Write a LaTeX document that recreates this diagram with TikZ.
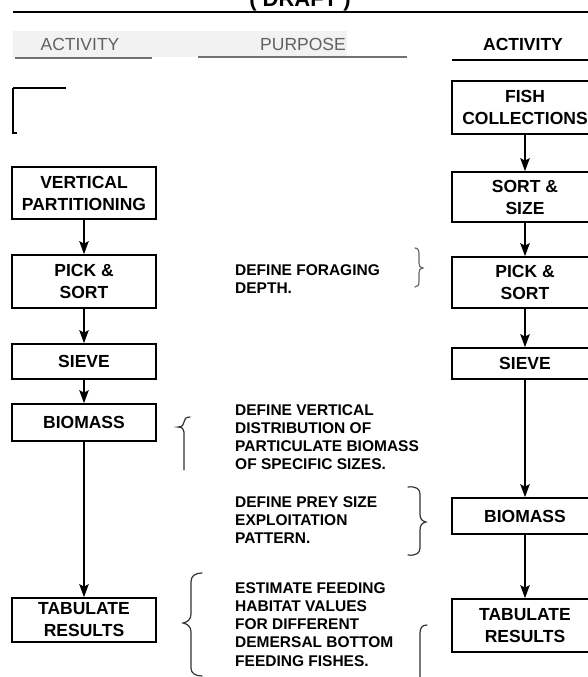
\documentclass[tikz,border=0pt]{standalone}
\usepackage{fontspec}
\setmainfont{Liberation Sans}
\usetikzlibrary{arrows.meta}
\tikzset{
  box/.style={draw, line width=1.7pt, align=center, inner sep=0pt,
    font=\bfseries\fontsize{17.5}{22}\selectfont},
  lbox/.style={box, minimum width=144pt},
  rbox/.style={box, minimum width=146pt},
  flow/.style={line width=1.4pt, -{Stealth[length=13pt,width=9.5pt,inset=2.5pt]}},
  purpose/.style={align=left, inner sep=0pt, anchor=north west,
    font=\bfseries\fontsize{15.5}{18.3}\selectfont},
  hdr/.style={font=\fontsize{17.5}{20}\selectfont, inner sep=0pt},
  brace/.style={line width=1.2pt, black!80, line cap=round},
}
\begin{document}
\begin{tikzpicture}[x=1pt,y=-1pt]
\useasboundingbox (0,0) rectangle (588,677);
% header band
\fill[black!5] (13,31) rectangle (347,57);
% title and top rule
\node[font=\bfseries\fontsize{22}{24}\selectfont, anchor=base, inner sep=0pt] (title) at (300,6.5) {( DRAFT )};
\coordinate (rl) at (13,12);
\coordinate (rr) at (588,12);
\draw[line width=1.5pt] (rl) -- (rr);
% headers
\node[hdr, text=black!62] (h1) at (80,44) {ACTIVITY};
\node[hdr, text=black!62] (h2) at (303,44) {PURPOSE};
\node[hdr, font=\bfseries\fontsize{17.5}{20}\selectfont] (h3) at (523,44) {ACTIVITY};
\coordinate (u1a) at (15,58); \coordinate (u1b) at (152,58);
\coordinate (u2a) at (198,57); \coordinate (u2b) at (407,57);
\coordinate (u3a) at (452,60); \coordinate (u3b) at (588,60);
\draw[line width=1.8pt, black!55] (u1a) -- (u1b);
\draw[line width=1.8pt, black!55] (u2a) -- (u2b);
\draw[line width=1.5pt] (u3a) -- (u3b);
% top-left partial bracket
\coordinate (k1) at (66,88); \coordinate (k2) at (13,88);
\coordinate (k3) at (13,133); \coordinate (k4) at (17,133);
\draw[line width=2.4pt] (k1) -- (k2);
\draw[line width=1.2pt] (k2) -- (k3) -- (k4);
% left column
\node[lbox, minimum height=52pt] (lvp) at (84,193) {VERTICAL\\PARTITIONING};
\node[lbox, minimum height=53pt] (lps) at (84,281.5) {PICK \&\\SORT};
\node[lbox, minimum height=35pt] (lsv) at (84,361.5) {SIEVE};
\node[lbox, minimum height=37pt] (lbm) at (84,422.5) {BIOMASS};
\node[lbox, minimum height=44pt] (ltr) at (84,620) {TABULATE\\RESULTS};
\draw[flow] (lvp) -- (lps);
\draw[flow] (lps) -- (lsv);
\draw[flow] (lsv) -- (lbm);
\draw[flow] (lbm) -- (ltr);
% right column
\node[rbox, minimum height=53pt] (rfc) at (525,107.5) {FISH\\COLLECTIONS};
\node[rbox, minimum height=50pt] (rss) at (525,197) {SORT \&\\SIZE};
\node[rbox, minimum height=51pt] (rps) at (525,282.5) {PICK \&\\SORT};
\node[rbox, minimum height=31pt] (rsv) at (525,363.5) {SIEVE};
\node[rbox, minimum height=36pt] (rbm) at (525,516) {BIOMASS};
\node[rbox, minimum height=53pt] (rtr) at (525,625.5) {TABULATE\\RESULTS};
\draw[flow] (rfc) -- (rss);
\draw[flow] (rss) -- (rps);
\draw[flow] (rps) -- (rsv);
\draw[flow] (rsv) -- (rbm);
\draw[flow] (rbm) -- (rtr);
% purpose texts
\node[purpose] (p1) at (235,264) {DEFINE FORAGING\\DEPTH.};
\node[purpose] (p2) at (235,404) {DEFINE VERTICAL\\DISTRIBUTION OF\\PARTICULATE BIOMASS\\OF SPECIFIC SIZES.};
\node[purpose] (p3) at (235,496) {DEFINE PREY SIZE\\EXPLOITATION\\PATTERN.};
\node[purpose] (p4) at (235,582) {ESTIMATE FEEDING\\HABITAT VALUES\\FOR DIFFERENT\\DEMERSAL BOTTOM\\FEEDING FISHES.};
% braces
\draw[brace, black!60] (415,248) .. controls (419,248) and (419,252) .. (419,256) -- (419,263)
  .. controls (419,266) and (420,268) .. (423,268) .. controls (420,268) and (419,270) .. (419,273)
  -- (419,281) .. controls (419,285) and (418,287) .. (415,287);
\draw[brace] (190,417) .. controls (186,417) and (184,419) .. (184,422)
  .. controls (184,425) and (182,427) .. (178,427) .. controls (182,427) and (184,429) .. (184,432) -- (184,470);
\draw[brace] (408,487) .. controls (416,486) and (420,489) .. (420,494) -- (420,514)
  .. controls (420,519) and (422,521) .. (426,522) .. controls (422,523) and (420,525) .. (420,530)
  -- (420,548) .. controls (420,553) and (416,556) .. (408,555);
\draw[brace] (202,573) .. controls (195,573) and (191,576) .. (191,582) -- (191,614)
  .. controls (191,619) and (188,622) .. (183,623) .. controls (188,624) and (191,627) .. (191,632)
  -- (191,668) .. controls (191,673) and (195,676) .. (202,676);
\draw[brace] (427,625) .. controls (422,625) and (420,628) .. (420,633) -- (420,680);
\end{tikzpicture}
\end{document}
